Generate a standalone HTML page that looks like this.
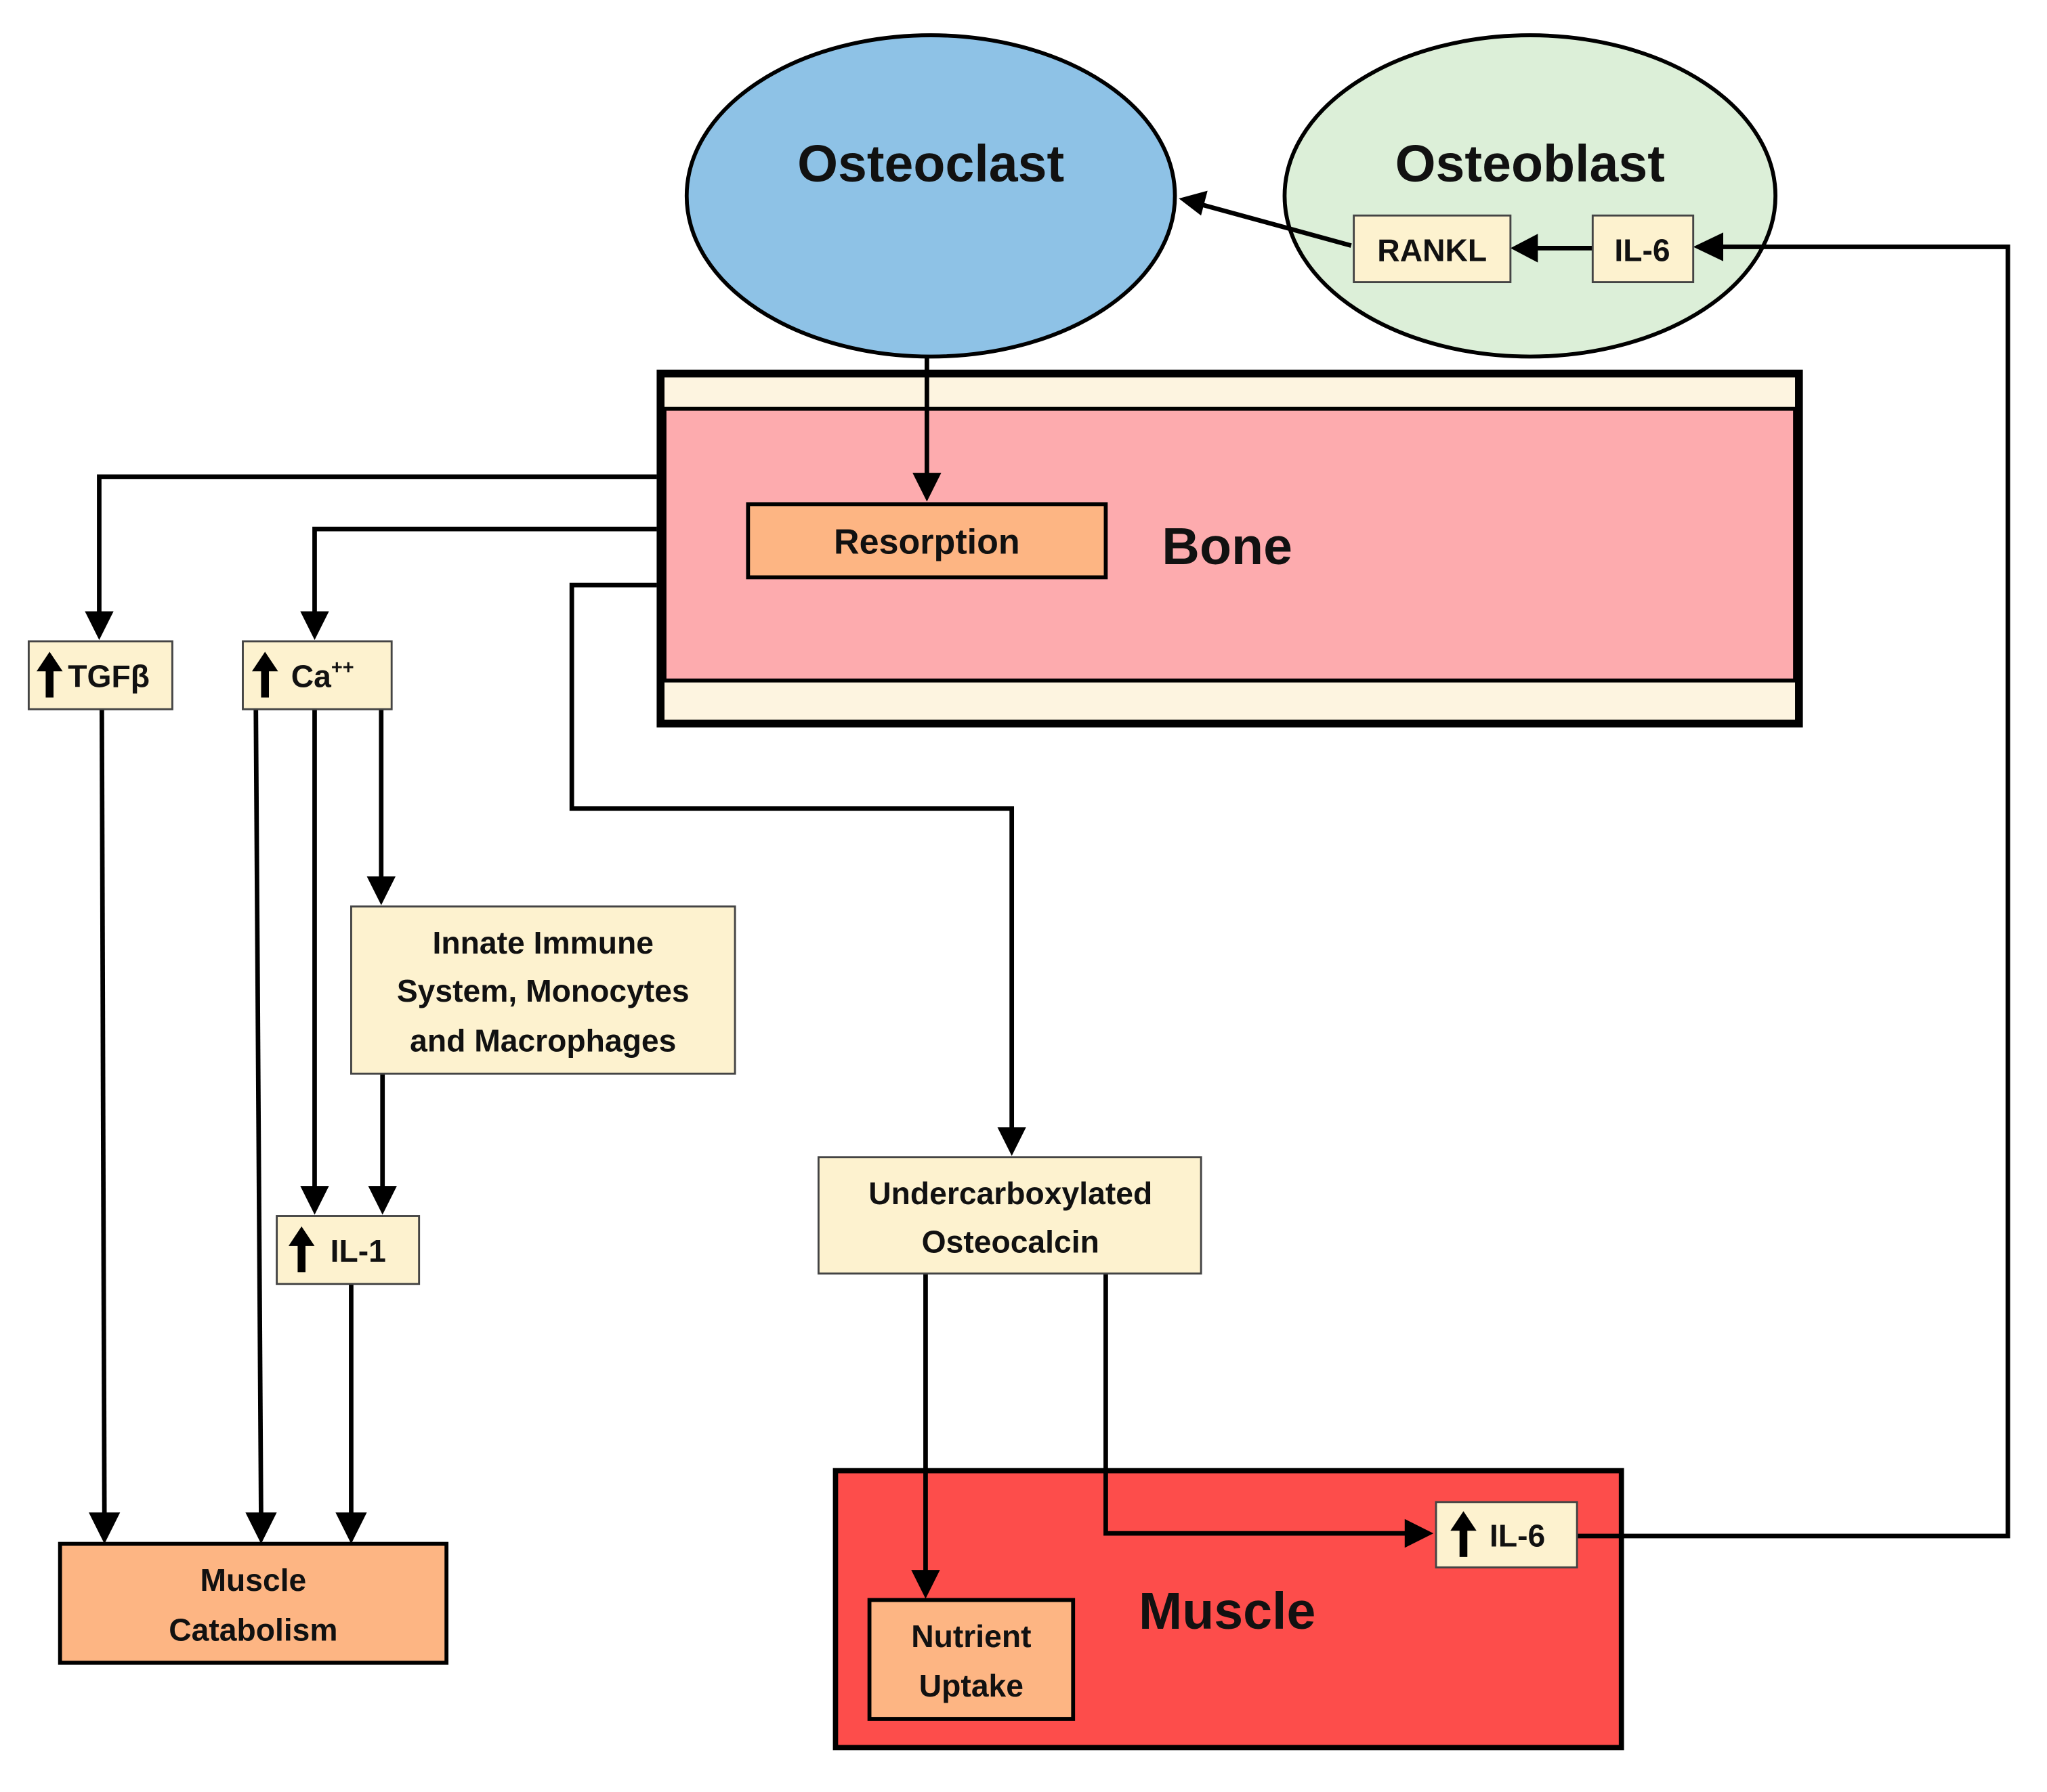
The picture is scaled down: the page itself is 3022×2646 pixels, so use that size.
<!DOCTYPE html>
<html><head><meta charset="utf-8"><style>
html,body{margin:0;padding:0;background:#fff;}
svg{display:block}
text{font-family:"Liberation Sans",sans-serif;font-weight:bold;fill:#111;}
</style></head><body>
<svg width="3022" height="2646" viewBox="0 0 1568 1372" preserveAspectRatio="none" xmlns="http://www.w3.org/2000/svg">
<rect width="1568" height="1372" fill="#fff"/>
<ellipse cx="713" cy="150" rx="187" ry="123" fill="#8ec2e6" stroke="#000" stroke-width="3"/>
<ellipse cx="1172" cy="150" rx="188" ry="123" fill="#dcefd8" stroke="#000" stroke-width="3"/>
<text x="713" y="139" font-size="40" text-anchor="middle">Osteoclast</text>
<text x="1172" y="139" font-size="40" text-anchor="middle">Osteoblast</text>
<rect x="506" y="286" width="872" height="268" fill="#fdf4e0" stroke="#000" stroke-width="6"/>
<rect x="509" y="313" width="866" height="208" fill="#fdabae" stroke="#000" stroke-width="3"/>
<text x="940" y="432" font-size="40" text-anchor="middle">Bone</text>
<rect x="573" y="386" width="274" height="56" fill="#fdb583" stroke="#000" stroke-width="3"/>
<text x="710" y="424" font-size="27" text-anchor="middle">Resorption</text>
<rect x="640" y="1126" width="602" height="212" fill="#fd4d4b" stroke="#000" stroke-width="4"/>
<text x="940" y="1247" font-size="40" text-anchor="middle">Muscle</text>
<g stroke="#000" stroke-width="3.5" fill="none">
<line x1="1220" y1="190" x2="1172" y2="190"/>
<line x1="1035" y1="188" x2="918" y2="156"/>
<polyline points="1208,1176 1538,1176 1538,189 1316,189"/>
<line x1="710" y1="273" x2="710" y2="366"/>
<polyline points="503,365 76,365 76,472"/>
<polyline points="503,405 241,405 241,472"/>
<polyline points="503,448 438,448 438,619 775,619 775,867"/>
<line x1="78" y1="543" x2="80" y2="1162"/>
<line x1="196" y1="543" x2="200" y2="1162"/>
<line x1="241" y1="543" x2="241" y2="912"/>
<line x1="292" y1="543" x2="292" y2="675"/>
<line x1="293" y1="822" x2="293" y2="912"/>
<line x1="269" y1="983" x2="269" y2="1162"/>
<line x1="709" y1="975" x2="709" y2="1206"/>
<polyline points="847,975 847,1174 1080,1174"/>
</g>
<g fill="#000">
<polygon points="1157,190 1178,179 1178,201"/>
<polygon points="903,152 925,146 920,165"/>
<polygon points="1297,189 1320,178 1320,200"/>
<polygon points="710,384 699,362 721,362"/>
<polygon points="76,490 65,468 87,468"/>
<polygon points="241,490 230,468 252,468"/>
<polygon points="775,885 764,863 786,863"/>
<polygon points="80,1182 68,1158 92,1158"/>
<polygon points="200,1182 188,1158 212,1158"/>
<polygon points="269,1182 257,1158 281,1158"/>
<polygon points="241,930 230,908 252,908"/>
<polygon points="293,930 282,908 304,908"/>
<polygon points="292,693 281,671 303,671"/>
<polygon points="709,1224 698,1202 720,1202"/>
<polygon points="1098,1174 1076,1163 1076,1185"/>
</g>
<g stroke="#444" stroke-width="1.5" fill="#fdf2cf">
<rect x="1037" y="165" width="120" height="51"/>
<rect x="1220" y="165" width="77" height="51"/>
<rect x="22" y="491" width="110" height="52"/>
<rect x="186" y="491" width="114" height="52"/>
<rect x="269" y="694" width="294" height="128"/>
<rect x="212" y="931" width="109" height="52"/>
<rect x="627" y="886" width="293" height="89"/>
<rect x="1100" y="1150" width="108" height="50"/>
</g>
<rect x="46" y="1182" width="296" height="91" fill="#fdb583" stroke="#000" stroke-width="3"/>
<rect x="666" y="1225" width="156" height="91" fill="#fdb583" stroke="#000" stroke-width="3"/>
<g fill="#000">
<path d="M38 499 L48 514 L41 514 L41 534 L35 534 L35 514 L28 514Z"/>
<path d="M203 499 L213 514 L206 514 L206 534 L200 534 L200 514 L193 514Z"/>
<path d="M231 939 L241 954 L234 954 L234 974 L228 974 L228 954 L221 954Z"/>
<path d="M1121 1157 L1131 1172 L1124 1172 L1124 1192 L1118 1192 L1118 1172 L1111 1172Z"/>
</g>
<text x="1097" y="200" font-size="24" text-anchor="middle">RANKL</text>
<text x="1258" y="200" font-size="24" text-anchor="middle">IL-6</text>
<text x="52" y="526" font-size="24">TGFβ</text>
<text x="223" y="526" font-size="24">Ca<tspan font-size="15" dy="-10">++</tspan></text>
<text x="416" y="730" font-size="24" text-anchor="middle">Innate Immune</text>
<text x="416" y="767" font-size="24" text-anchor="middle">System, Monocytes</text>
<text x="416" y="805" font-size="24" text-anchor="middle">and Macrophages</text>
<text x="253" y="966" font-size="24">IL-1</text>
<text x="774" y="922" font-size="24" text-anchor="middle">Undercarboxylated</text>
<text x="774" y="959" font-size="24" text-anchor="middle">Osteocalcin</text>
<text x="1141" y="1184" font-size="24">IL-6</text>
<text x="194" y="1218" font-size="24" text-anchor="middle">Muscle</text>
<text x="194" y="1256" font-size="24" text-anchor="middle">Catabolism</text>
<text x="744" y="1261" font-size="24" text-anchor="middle">Nutrient</text>
<text x="744" y="1299" font-size="24" text-anchor="middle">Uptake</text>
</svg>
</body></html>
